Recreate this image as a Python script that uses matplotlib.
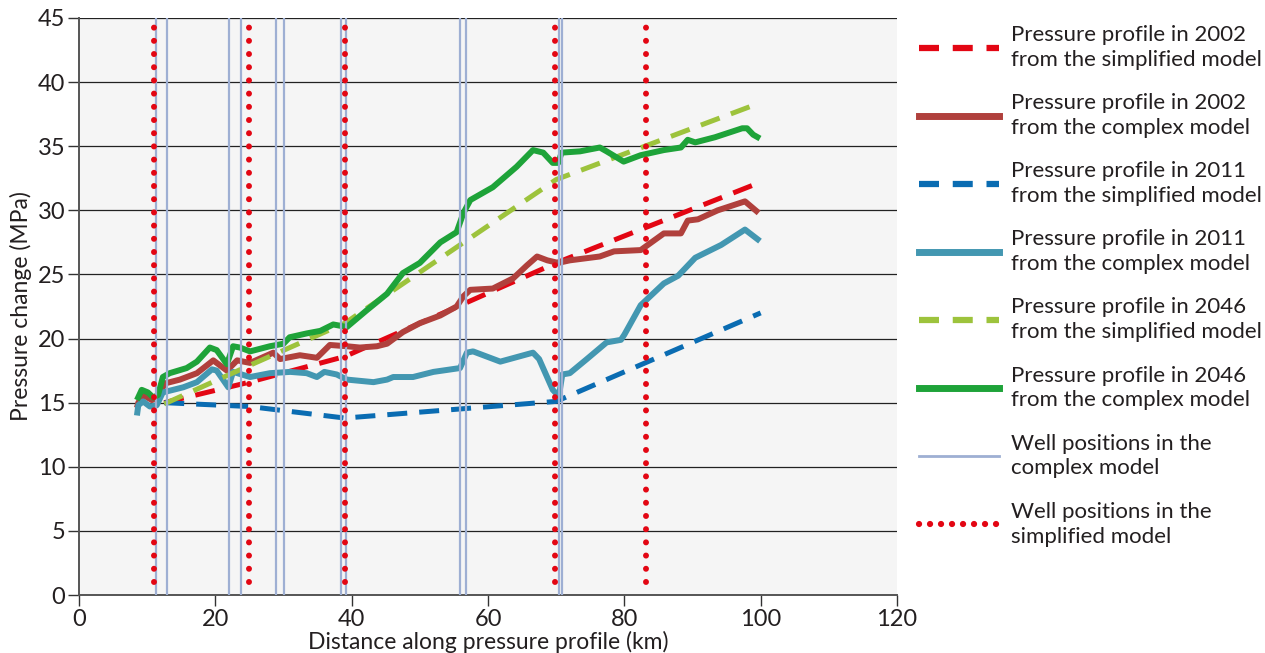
import matplotlib
matplotlib.use("Agg")
import matplotlib.pyplot as plt
from matplotlib.lines import Line2D

plt.rcParams['font.family'] = ['Lato', 'DejaVu Sans']

# well positions (km)
wells_complex = [11.3, 12.9, 22.0, 23.8, 28.9, 30.1, 38.5, 39.2, 55.9, 56.7, 70.45, 70.9]
wells_simplified = [11.0, 24.9, 39.0, 69.9, 83.2]

# simplified model profiles
simp_x = [12.5, 25, 39, 70, 100]
simp_2002 = [15.0, 16.6, 18.6, 25.9, 32.2]
simp_2011 = [15.0, 14.7, 13.8, 15.1, 22.0]
simp_2046 = [14.9, 17.9, 21.2, 32.4, 38.4]

# complex model profiles
c2046_x = [8.5, 9.2, 10.1, 10.9, 11.6, 12.3, 13.3, 15.8, 17.3, 19.2, 20.2, 21.7, 22.6, 23.6, 25.1,
           28.0, 30.0, 30.9, 33.4, 35.4, 37.3, 39.3, 42.2, 45.2, 47.5, 50.0, 53.0, 55.4, 56.4, 57.4,
           60.7, 64.2, 66.6, 68.1, 69.5, 70.3, 70.8, 73.5, 76.4, 77.4, 79.9, 82.4, 85.8, 88.3, 89.3,
           90.4, 93.3, 97.3, 98.0, 98.9, 99.9]
c2046_y = [15.2, 16.0, 15.8, 15.4, 15.6, 17.0, 17.3, 17.7, 18.2, 19.3, 19.1, 18.0, 19.4, 19.3, 19.0,
           19.4, 19.6, 20.1, 20.4, 20.6, 21.1, 20.9, 22.2, 23.5, 25.1, 25.9, 27.5, 28.3, 29.8, 30.8,
           31.8, 33.4, 34.7, 34.5, 33.7, 33.7, 34.5, 34.6, 34.9, 34.6, 33.8, 34.3, 34.7, 34.9, 35.5,
           35.3, 35.7, 36.4, 36.4, 35.9, 35.6]

c2002_x = [8.5, 8.7, 9.4, 10.7, 11.6, 12.6, 14.8, 17.3, 19.7, 21.7, 23.2, 25.1, 28.5, 29.5, 32.4,
           34.9, 36.8, 39.3, 41.2, 43.7, 45.2, 47.5, 50.0, 53.0, 55.4, 56.4, 57.4, 60.7, 63.7, 65.7,
           67.2, 68.7, 70.3, 72.0, 76.4, 78.5, 82.4, 85.8, 88.3, 89.3, 90.8, 93.7, 97.7, 99.7]
c2002_y = [14.6, 15.0, 15.6, 15.2, 15.5, 16.5, 16.8, 17.3, 18.3, 17.5, 18.3, 18.1, 18.9, 18.4, 18.7,
           18.5, 19.5, 19.4, 19.3, 19.4, 19.6, 20.5, 21.2, 21.8, 22.5, 23.3, 23.8, 23.9, 24.7, 25.7,
           26.4, 26.1, 25.9, 26.1, 26.4, 26.8, 26.9, 28.2, 28.2, 29.2, 29.3, 30.0, 30.7, 29.8]

c2011_x = [8.5, 8.7, 9.4, 10.4, 11.4, 12.3, 13.8, 15.3, 17.3, 19.5, 20.2, 21.9, 22.6, 25.1, 28.0,
           31.0, 33.4, 34.9, 36.0, 37.8, 39.3, 43.2, 45.2, 46.1, 49.0, 52.0, 55.9, 56.9, 57.8, 61.8,
           66.6, 67.5, 69.5, 70.4, 70.9, 72.0, 74.5, 77.4, 79.5, 80.0, 82.4, 85.8, 87.9, 90.4, 94.2,
           97.7, 99.9]
c2011_y = [14.0, 14.8, 15.1, 14.7, 14.8, 15.8, 16.0, 16.2, 16.6, 17.6, 17.5, 16.2, 17.4, 17.0, 17.3,
           17.4, 17.3, 17.0, 17.4, 17.2, 16.8, 16.6, 16.8, 17.0, 17.0, 17.4, 17.7, 18.9, 19.0, 18.2,
           18.9, 18.4, 16.0, 15.5, 17.2, 17.3, 18.4, 19.7, 19.9, 20.3, 22.6, 24.3, 24.9, 26.3, 27.3,
           28.5, 27.6]

labels = [
    "Pressure profile in 2002\nfrom the simplified model",
    "Pressure profile in 2002\nfrom the complex model",
    "Pressure profile in 2011\nfrom the simplified model",
    "Pressure profile in 2011\nfrom the complex model",
    "Pressure profile in 2046\nfrom the simplified model",
    "Pressure profile in 2046\nfrom the complex model",
    "Well positions in the\ncomplex model",
    "Well positions in the\nsimplified model",
]

RED = '#e30613'
BROWN = '#b0403c'
BLUE = '#0a6cb2'
CYAN = '#4397b1'
LIME = '#9dc33c'
GREEN = '#1ea339'
WELL = '#9eafd3'
TEXT = '#231f20'

fig = plt.figure(figsize=(12.65, 6.53), dpi=100)
ax = fig.add_axes([79 / 1265, 58 / 653, 818 / 1265, 577 / 653])
ax.set_facecolor('#f5f5f5')

dash = (0, (4, 2.4))
solid_kw = dict(lw=4.3, solid_capstyle='butt', solid_joinstyle='round', zorder=3)
dash_kw = dict(lw=3.6, ls=dash, dash_capstyle='butt', zorder=3)
ax.plot(simp_x, simp_2002, color=RED, **dash_kw)
ax.plot(c2002_x, c2002_y, color=BROWN, **solid_kw)
ax.plot(simp_x, simp_2011, color=BLUE, **dash_kw)
ax.plot(c2011_x, c2011_y, color=CYAN, **solid_kw)
ax.plot(simp_x, simp_2046, color=LIME, **dash_kw)
ax.plot(c2046_x, c2046_y, color=GREEN, **solid_kw)

for w in wells_complex:
    ax.plot([w, w], [0, 45], color=WELL, lw=1.6, zorder=4)
for w in wells_simplified:
    ax.plot([w, w], [1.0, 45], color=RED, lw=4.3, ls=(0, (0.01, 2.2)),
            dash_capstyle='round', zorder=5)

ax.set_xlim(0, 120)
ax.set_ylim(0, 45)
ax.set_xticks(range(0, 121, 20))
ax.set_yticks(range(0, 46, 5))
ax.grid(axis='y', color='#222222', lw=0.9, zorder=1)
ax.set_axisbelow(True)
for s in ['top', 'right']:
    ax.spines[s].set_visible(False)
for s in ['left', 'bottom']:
    ax.spines[s].set_color('#555555')
    ax.spines[s].set_linewidth(1.4)
ax.tick_params(axis='both', direction='out', length=8, width=1.0, color='#333333',
               labelsize=17, labelcolor=TEXT, pad=2)
ax.set_xlabel("Distance along pressure profile (km)", fontsize=16.5, color=TEXT, labelpad=1)
ax.set_ylabel("Pressure change (MPa)", fontsize=16.5, color=TEXT, labelpad=4)

handles = [
    Line2D([], [], color=RED, lw=4.5, ls=(0, (3.2, 2.2)), dash_capstyle='butt'),
    Line2D([], [], color=BROWN, lw=5),
    Line2D([], [], color=BLUE, lw=4.5, ls=(0, (3.2, 2.2)), dash_capstyle='butt'),
    Line2D([], [], color=CYAN, lw=5),
    Line2D([], [], color=LIME, lw=4.5, ls=(0, (3.2, 2.2)), dash_capstyle='butt'),
    Line2D([], [], color=GREEN, lw=5),
    Line2D([], [], color=WELL, lw=2),
    Line2D([], [], color=RED, lw=4.5, ls=(0, (0.01, 1.75)), dash_capstyle='round'),
]
leg = fig.legend(handles, labels, loc='upper left', bbox_to_anchor=(910 / 1265, 1 - 16 / 653),
                 frameon=False, fontsize=16, handlelength=3.6, handletextpad=0.55,
                 labelspacing=1.05, borderaxespad=0)
for t in leg.get_texts():
    t.set_color(TEXT)
    t.set_linespacing(1.3)

fig.savefig('out.png', dpi=100)
